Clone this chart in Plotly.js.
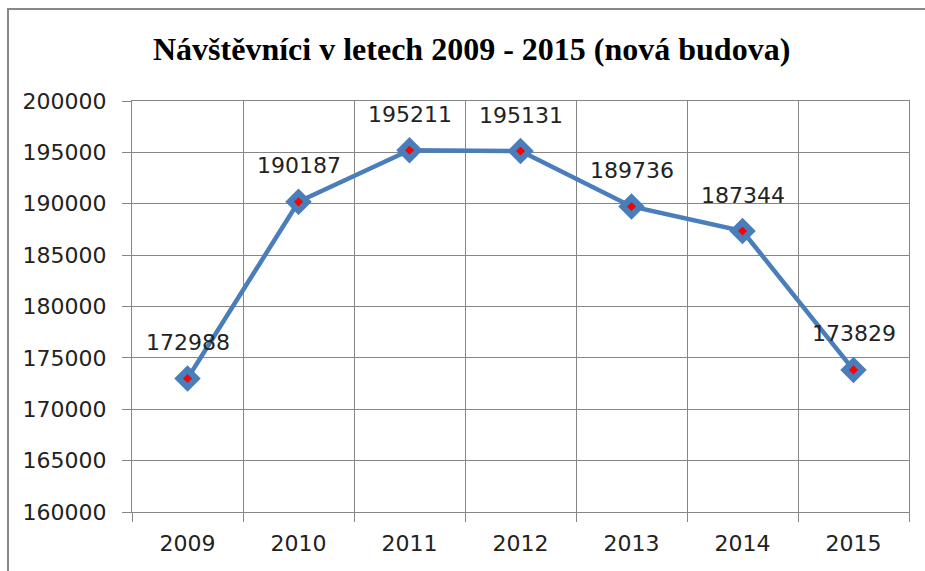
<!DOCTYPE html>
<html>
<head>
<meta charset="utf-8">
<script src="https://cdn.plot.ly/plotly-3.0.1.min.js"></script>
<style>
html,body{margin:0;padding:0;background:#fff;}
#chart{width:925px;height:571px;}
</style>
</head>
<body>
<div id="chart"></div>
<script>
const years = ['2009','2010','2011','2012','2013','2014','2015'];
const visitors = [172988, 190187, 195211, 195131, 189736, 187344, 173829];
const labels = visitors.map(v => String(v));
const titleText = 'Návštěvníci v letech 2009 - 2015 (nová budova)';

const lineTrace = {
  x: years, y: visitors, type: 'scatter', mode: 'lines+markers',
  line: {color: '#4A7EBB', width: 4.5},
  marker: {symbol: 'diamond', size: 16, color: '#4A7EBB', line: {color: '#4A7EBB', width: 4}},
  hoverinfo: 'skip', cliponaxis: false
};
const dotTrace = {
  x: years, y: visitors, type: 'scatter', mode: 'markers',
  marker: {symbol: 'diamond', size: 7, color: '#FF0000', line: {width: 0}},
  hoverinfo: 'skip', cliponaxis: false
};

// on a category axis, annotations are placed by category index
const annotations = years.map((yr, i) => ({
  x: i, y: visitors[i], xref: 'x', yref: 'y', text: labels[i],
  showarrow: false, yshift: 36, xanchor: 'center', yanchor: 'middle',
  font: {family: 'DejaVu Sans', size: 22, color: '#222'}
}));
annotations.push({
  xref: 'paper', yref: 'paper', x: 0.4363, y: 1.1265, xanchor: 'center', yanchor: 'middle',
  text: '<b>' + titleText + '</b>', showarrow: false,
  font: {family: 'Liberation Serif', size: 32, color: '#000'}
});

const layout = {
  width: 925, height: 571,
  margin: {l: 132, r: 16, t: 101, b: 59},
  paper_bgcolor: '#fff', plot_bgcolor: '#fff',
  showlegend: false,
  font: {family: 'DejaVu Sans', size: 22, color: '#222'},
  xaxis: {
    type: 'category', categoryorder: 'array', categoryarray: years,
    range: [-0.5, years.length - 0.5], autorange: false,
    tickson: 'boundaries', ticks: 'outside', ticklen: 9, tickangle: 0,
    tickcolor: '#868686', showgrid: true, gridcolor: '#868686', gridwidth: 1,
    showline: true, linecolor: '#868686', linewidth: 1, mirror: true,
    ticklabelstandoff: 12, zeroline: false, fixedrange: true
  },
  yaxis: {
    range: [160000, 200000], dtick: 5000, tick0: 160000, ticks: 'outside', ticklen: 9,
    tickcolor: '#868686', showgrid: true, gridcolor: '#868686', gridwidth: 1,
    showline: true, linecolor: '#868686', linewidth: 1, mirror: true,
    zeroline: false, tickformat: 'd', ticklabelstandoff: 11, fixedrange: true
  },
  annotations: annotations,
  shapes: [{
    type: 'rect', xref: 'paper', yref: 'paper',
    x0: -0.1596, x1: 1.2, y0: -0.3, y1: 1.2238,
    line: {color: '#888888', width: 2}, fillcolor: 'rgba(0,0,0,0)', layer: 'below'
  }]
};

Plotly.newPlot('chart', [lineTrace, dotTrace], layout, {displayModeBar: false, staticPlot: true});
</script>
</body>
</html>
